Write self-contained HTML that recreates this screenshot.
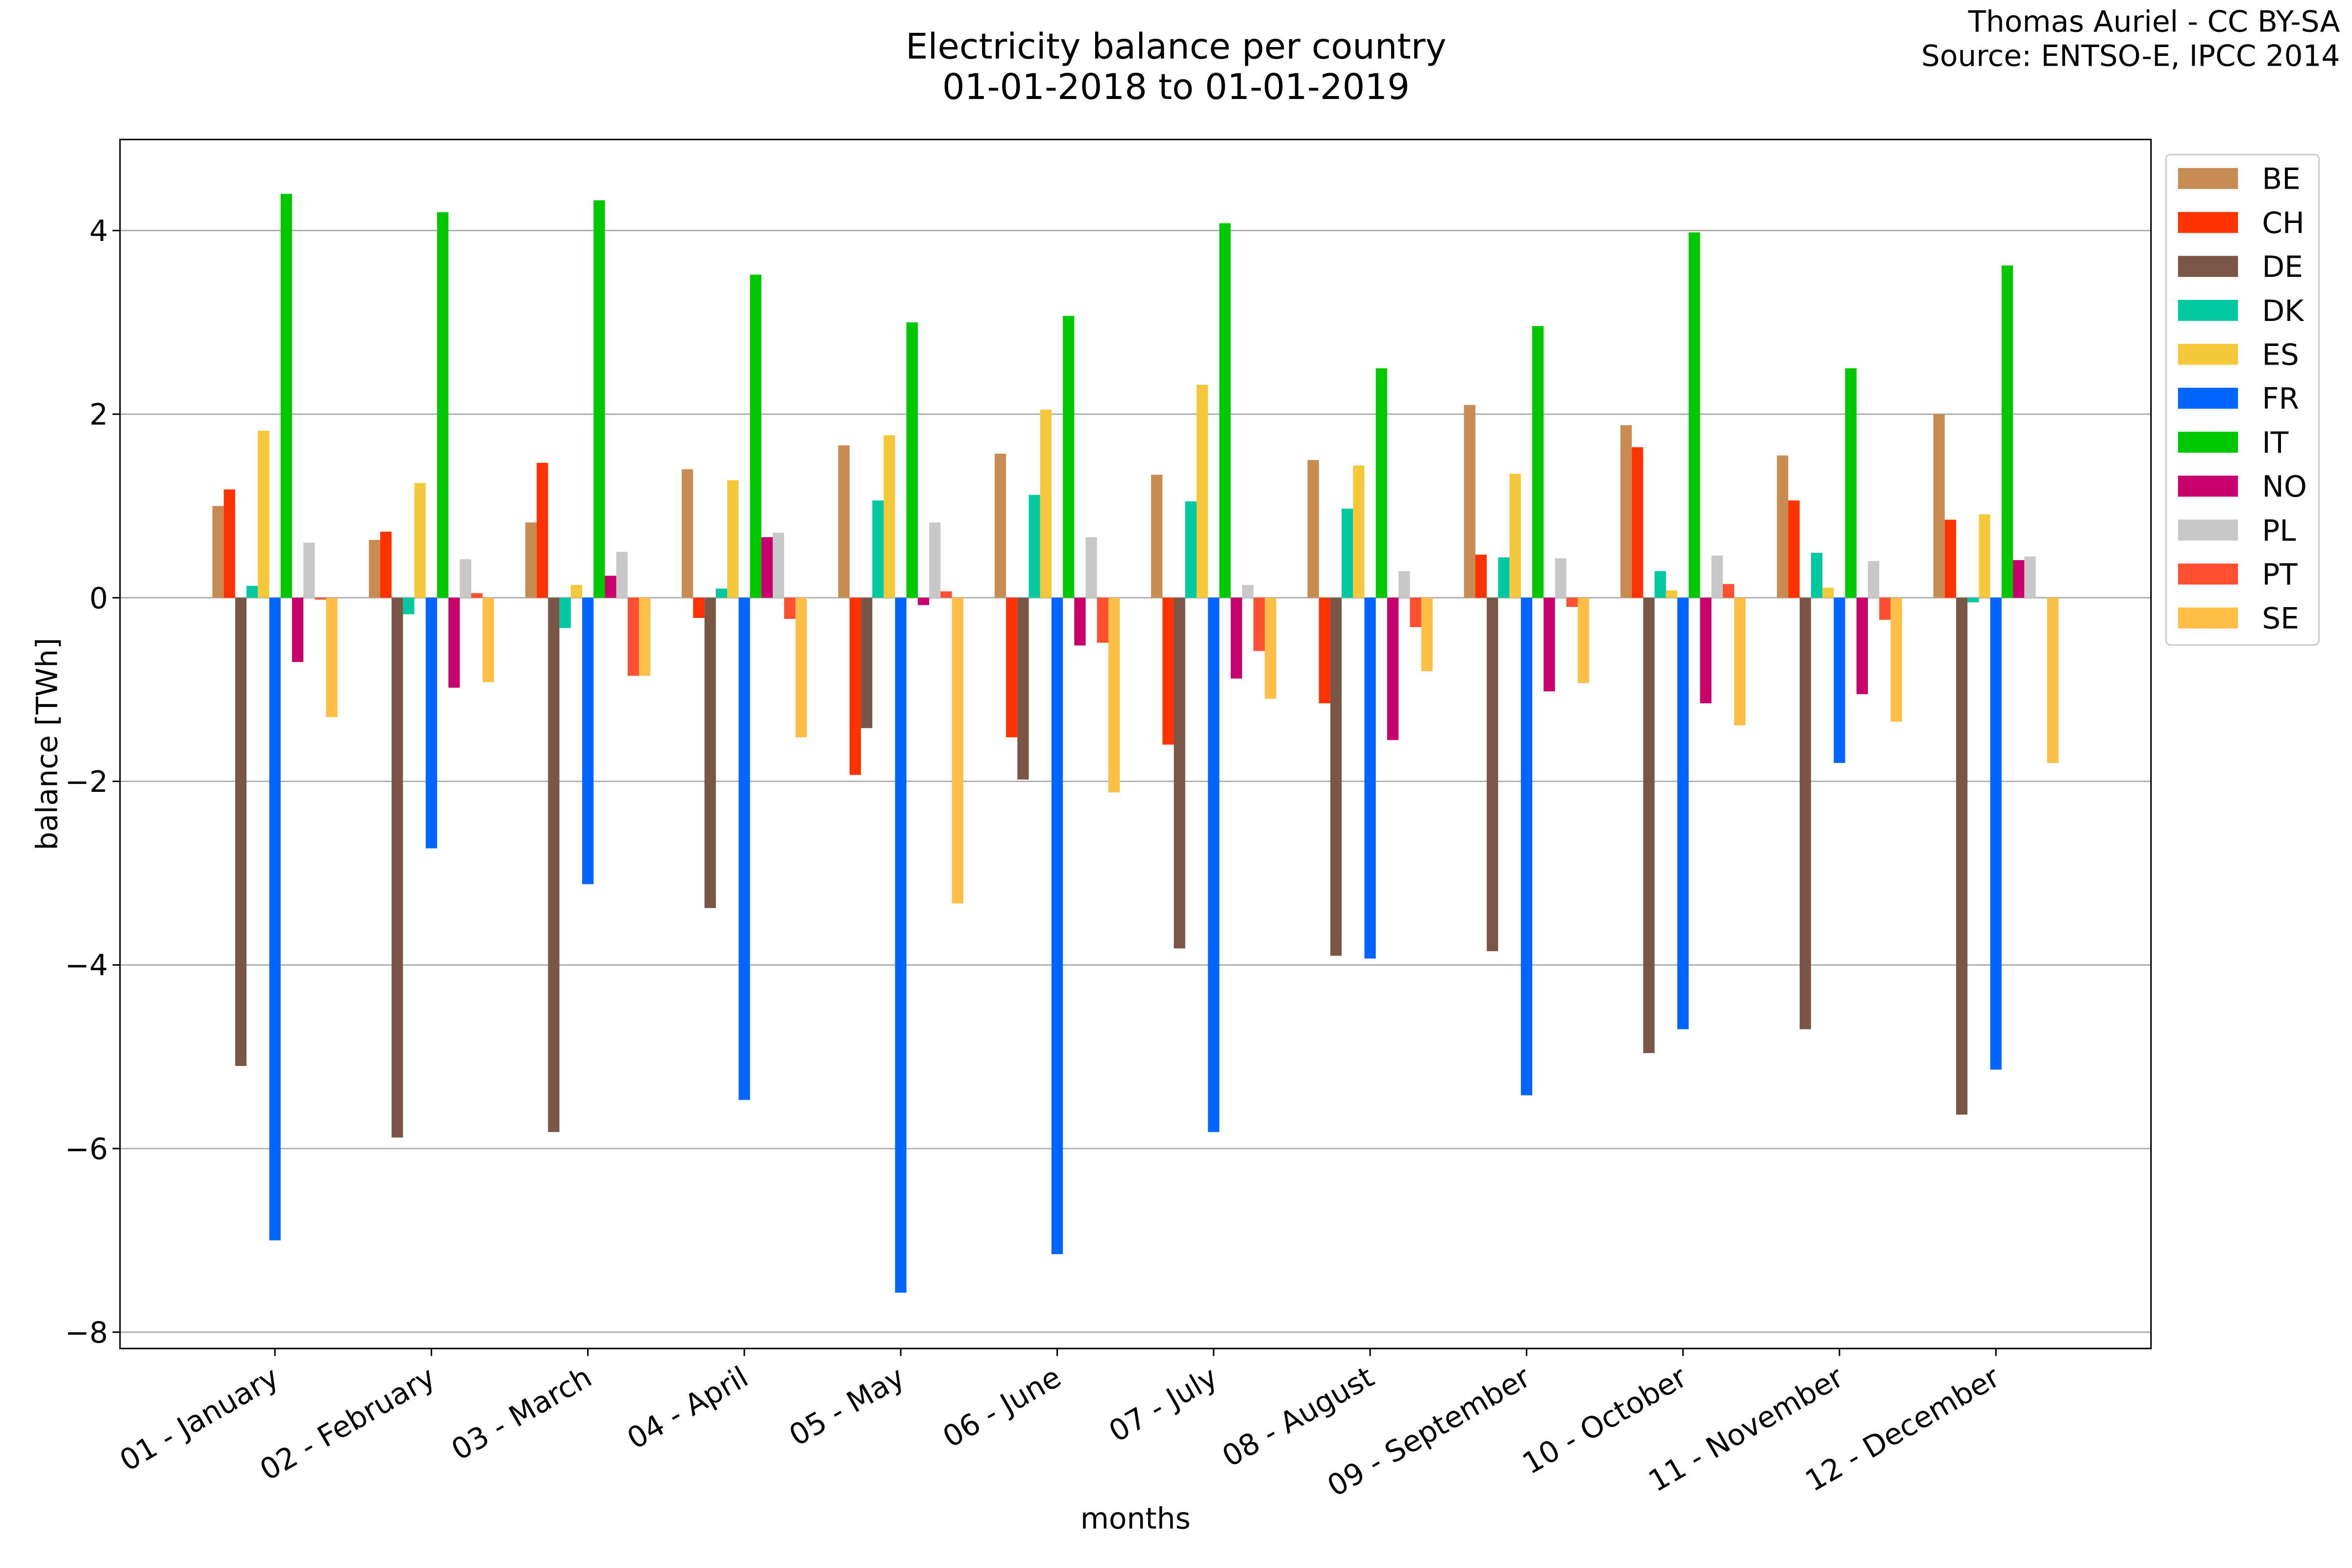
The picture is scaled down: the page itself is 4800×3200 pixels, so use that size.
<!DOCTYPE html>
<html><head><meta charset="utf-8"><style>html,body{margin:0;padding:0;background:#fff}svg{display:block}</style></head>
<body>
<svg id="s" xmlns="http://www.w3.org/2000/svg" width="4800" height="3200" viewBox="0 0 1568 1045.33" preserveAspectRatio="none" font-family="'DejaVu Sans','Liberation Sans',sans-serif">
<rect width="1568" height="1046" fill="#fff"/>
<g id="grid"></g>
<g id="bars"></g>
<rect x="80" y="93" width="1354" height="806" fill="none" stroke="#000" stroke-width="1"/>
<g id="ticks" font-size="19.5"></g>
<text x="784" y="39" font-size="23.5" text-anchor="middle">Electricity balance per country</text>
<text x="784" y="66" font-size="23.5" text-anchor="middle">01-01-2018 to 01-01-2019</text>
<text x="1560" y="21" font-size="19.5" text-anchor="end">Thomas Auriel - CC BY-SA</text>
<text x="1560" y="44" font-size="19.5" text-anchor="end">Source: ENTSO-E, IPCC 2014</text>
<text transform="translate(38,496) rotate(-90)" font-size="19.5" text-anchor="middle">balance [TWh]</text>
<text x="757" y="1019" font-size="19.5" text-anchor="middle">months</text>
<g id="leg"></g>
</svg>
<script>
var NS="http://www.w3.org/2000/svg";
function el(p,t,a,txt){var e=document.createElementNS(NS,t);for(var k in a)e.setAttribute(k,a[k]);if(txt!==undefined)e.textContent=txt;document.getElementById(p).appendChild(e);return e;}
var y0=398.5,k=61.2;
function Y(v){return y0-v*k;}
for(var v=-8;v<=4;v+=2){el("grid","line",{x1:80,x2:1434,y1:Y(v),y2:Y(v),stroke:"#b0b0b0","stroke-width":1});
 el("ticks","line",{x1:75,x2:80,y1:Y(v),y2:Y(v),stroke:"#000"});
 el("ticks","text",{x:72,y:Y(v)+7,"text-anchor":"end"},(v<0?"\u2212"+(-v):""+v));}
var names=["BE","CH","DE","DK","ES","FR","IT","NO","PL","PT","SE"];
var cols=["#c88c52","#ff3300","#7a5646","#00c8a0","#f5c83c","#0064ff","#00c800","#c8006e","#c8c8c8","#ff5032","#ffbe46"];
var data=[
[1.0,1.18,-5.1,0.13,1.82,-7.0,4.4,-0.7,0.6,-0.02,-1.3],
[0.63,0.72,-5.88,-0.18,1.25,-2.73,4.2,-0.98,0.42,0.05,-0.92],
[0.82,1.47,-5.82,-0.33,0.14,-3.12,4.33,0.24,0.5,-0.85,-0.85],
[1.4,-0.22,-3.38,0.1,1.28,-5.47,3.52,0.66,0.71,-0.23,-1.52],
[1.66,-1.93,-1.42,1.06,1.77,-7.57,3.0,-0.08,0.82,0.07,-3.33],
[1.57,-1.52,-1.98,1.12,2.05,-7.15,3.07,-0.52,0.66,-0.49,-2.12],
[1.34,-1.6,-3.82,1.05,2.32,-5.82,4.08,-0.88,0.14,-0.58,-1.1],
[1.5,-1.15,-3.9,0.97,1.44,-3.93,2.5,-1.55,0.29,-0.32,-0.8],
[2.1,0.47,-3.85,0.44,1.35,-5.42,2.96,-1.02,0.43,-0.1,-0.93],
[1.88,1.64,-4.96,0.29,0.08,-4.7,3.98,-1.15,0.46,0.15,-1.39],
[1.55,1.06,-4.7,0.49,0.11,-1.8,2.5,-1.05,0.4,-0.24,-1.35],
[2.0,0.85,-5.63,-0.05,0.91,-5.14,3.62,0.41,0.45,0.0,-1.8]];
var months=["01 - January","02 - February","03 - March","04 - April","05 - May","06 - June","07 - July","08 - August","09 - September","10 - October","11 - November","12 - December"];
var bw=83.4/11;
for(var m=0;m<12;m++){var c=183.3+m*104.3;var x0=c-41.7;
 for(var i=0;i<11;i++){var v=data[m][i];var y=Math.min(Y(v),y0),h=Math.abs(v*k);
  el("bars","rect",{x:x0+i*bw,y:y,width:bw,height:h,fill:cols[i]});}
 el("ticks","line",{x1:c,x2:c,y1:899,y2:904,stroke:"#000"});
 el("ticks","text",{transform:"translate("+(c-3)+",910) rotate(-30)","text-anchor":"end",y:14},months[m]);}
el("leg","rect",{x:1444,y:103,width:102,height:327,fill:"#fff",stroke:"#ccc",rx:3});
for(var i=0;i<11;i++){var yy=119+i*29.3;
 el("leg","rect",{x:1452,y:yy-7,width:40,height:14,fill:cols[i]});
 el("leg","text",{x:1508,y:yy+7,"font-size":19.5},names[i]);}
</script>
</body></html>
